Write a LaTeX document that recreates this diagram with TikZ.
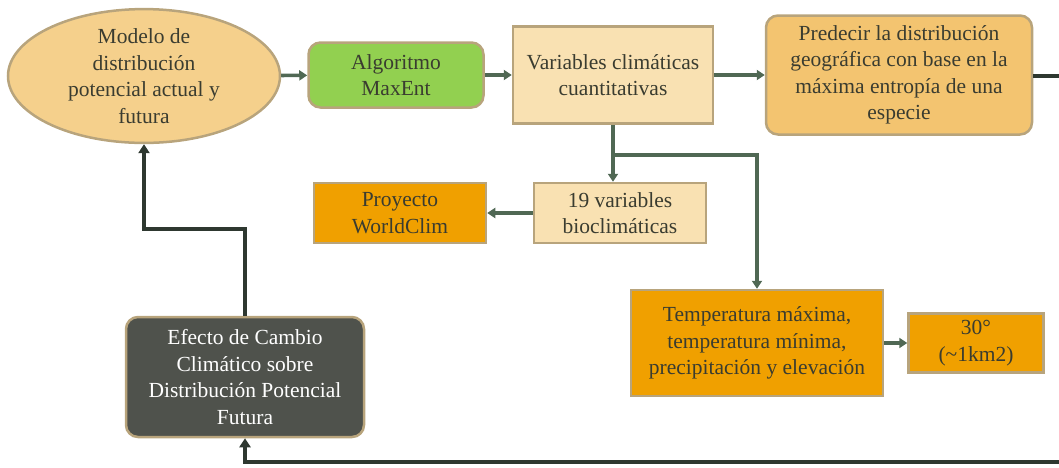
\documentclass[tikz,border=0pt]{standalone}
\usepackage{fontspec}
\setmainfont{Liberation Serif}
\usepackage{xcolor}
\usepackage{tikz}
\usetikzlibrary{positioning,calc,shapes.geometric,arrows.meta}
\definecolor{MarcoTan}{RGB}{184,164,124}
\definecolor{TextoOsc}{RGB}{58,60,48}
\definecolor{LineaVerde}{RGB}{80,104,84}
\definecolor{LineaOsc}{RGB}{46,56,48}
\definecolor{NaranjaClaro}{RGB}{245,208,140}
\definecolor{NaranjaMedio}{RGB}{243,196,112}
\definecolor{Crema}{RGB}{249,225,178}
\definecolor{Naranja}{RGB}{240,160,0}
\definecolor{VerdeMax}{RGB}{146,208,80}
\definecolor{GrisOsc}{RGB}{79,82,76}
\tikzset{
    caja/.style={draw=MarcoTan, line width=2.5pt, align=center, text=TextoOsc,
        font=\fontsize{21.5}{26.5}\selectfont, inner sep=0pt},
    flecha/.style={draw=LineaVerde, line width=3.6pt, -{Triangle[length=8pt,width=10pt]}},
    lazo/.style={draw=LineaOsc, line width=3.4pt}
}

\begin{document}
\begin{tikzpicture}[x=1pt, y=-1pt,
					% Caja redondeada
					cajaredonda/.style={
						caja,
						rounded corners=12pt
					}
				]
					\useasboundingbox (0,0) rectangle (1059,467);
					
					% --- FILA SUPERIOR ---
					\node[caja, ellipse, fill=NaranjaClaro, minimum width=272pt, minimum height=132pt] (modelo) at (144,76)
					{Modelo de\\distribución\\potencial actual y\\futura};
					\node[cajaredonda, fill=VerdeMax, minimum width=175pt, minimum height=65pt] (maxent) at (396,75)
					{Algoritmo\\MaxEnt};
					\node[caja, fill=Crema, minimum width=200pt, minimum height=97pt] (varclim) at (613,75)
					{Variables climáticas\\cuantitativas};
					\node[cajaredonda, fill=NaranjaMedio, minimum width=266pt, minimum height=119pt] (predecir) at (899,75)
					{Predecir la distribución\\geográfica con base en la\\máxima entropía de una\\especie};
					
					% --- FILA MEDIA ---
					\node[caja, fill=Crema, minimum width=172pt, minimum height=60pt] (bioclim) at (620,213)
					{19 variables\\bioclimáticas};
					\node[caja, fill=Naranja, minimum width=172pt, minimum height=60pt] (worldclim) at (400,213)
					{Proyecto\\WorldClim};
					
					% --- FILA INFERIOR ---
					\node[caja, fill=Naranja, minimum width=252pt, minimum height=106pt] (temp) at (757,343)
					{Temperatura máxima,\\temperatura mínima,\\precipitación y elevación};
					\node[caja, fill=Naranja, minimum width=135pt, minimum height=59pt] (resol) at (976,343)
					{30°\\(\textasciitilde1km2)};
					\node[cajaredonda, fill=GrisOsc, text=white, minimum width=238pt, minimum height=120pt] (efecto) at (245,377)
					{Efecto de Cambio\\Climático sobre\\Distribución Potencial\\Futura};
					
					% --- CONECTORES ---
					\coordinate (rama) at (varclim.south |- 0,155);
					\coordinate (codo) at (efecto.north |- 0,229);
					\coordinate (salida) at (1070,76);
					\coordinate (fondo) at (1070,462);
					\draw[flecha] (modelo) -- (maxent);
					\draw[flecha] (maxent) -- (varclim);
					\draw[flecha] (varclim) -- (predecir);
					\draw[flecha] (varclim.south) -- (bioclim.north -| varclim.south);
					\draw[flecha] (rama) -| (temp.north);
					\draw[flecha] (bioclim) -- (worldclim);
					\draw[flecha] (temp) -- (resol);
					
					% Lazo de retorno (oscuro)
					\draw[lazo, line width=4.2pt] (predecir.east |- salida) -- (salida);
					\draw[lazo, line width=4.2pt, -{Triangle[length=9pt,width=11pt]}] (fondo) -| (efecto.south);
					\draw[lazo, -{Triangle[length=9pt,width=11pt]}] (efecto.north) -- (codo) -| (modelo.south);
					
				\end{tikzpicture}
\end{document}
